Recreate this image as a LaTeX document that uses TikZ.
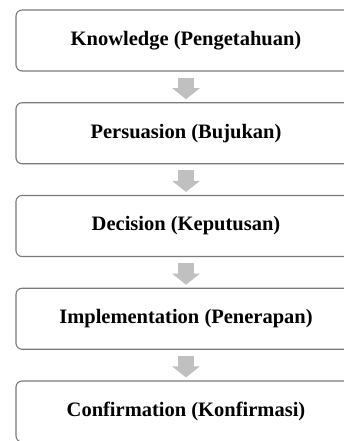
\documentclass[tikz,border=0pt]{standalone}
\usepackage{fontspec}
\setmainfont{Liberation Serif}
\usetikzlibrary{arrows.meta}
\definecolor{boxline}{HTML}{7A7A7A}
\definecolor{arrowgray}{HTML}{C0C0C0}
\tikzset{
  stagebox/.style={draw=boxline, line width=1.1pt, rounded corners=6pt, fill=white,
    minimum width=340pt, minimum height=61pt, inner sep=0pt,
    font=\fontsize{20.5}{24}\selectfont\bfseries, text=black},
  flowarrow/.style={draw=arrowgray, line width=16pt,
    -{Triangle[width=27pt,length=11pt]}},
}
\begin{document}
\begin{tikzpicture}[x=1pt,y=-1pt]
\clip (0,0) rectangle (344,441);
\fill[white] (0,0) rectangle (344,441);
\node[stagebox] (k) at (186,40.5) {Knowledge (Pengetahuan)};
\node[stagebox] (p) at (186,133.25) {Persuasion (Bujukan)};
\node[stagebox] (d) at (186,226) {Decision (Keputusan)};
\node[stagebox] (i) at (186,318.75) {Implementation (Penerapan)};
\node[stagebox] (c) at (186,411.5) {Confirmation (Konfirmasi)};
\foreach \a/\b in {k/p,p/d,d/i,i/c}{
  \draw[flowarrow] ([yshift=-6pt]\a.south) -- ([yshift=3pt]\b.north);
}
\end{tikzpicture}
\end{document}
